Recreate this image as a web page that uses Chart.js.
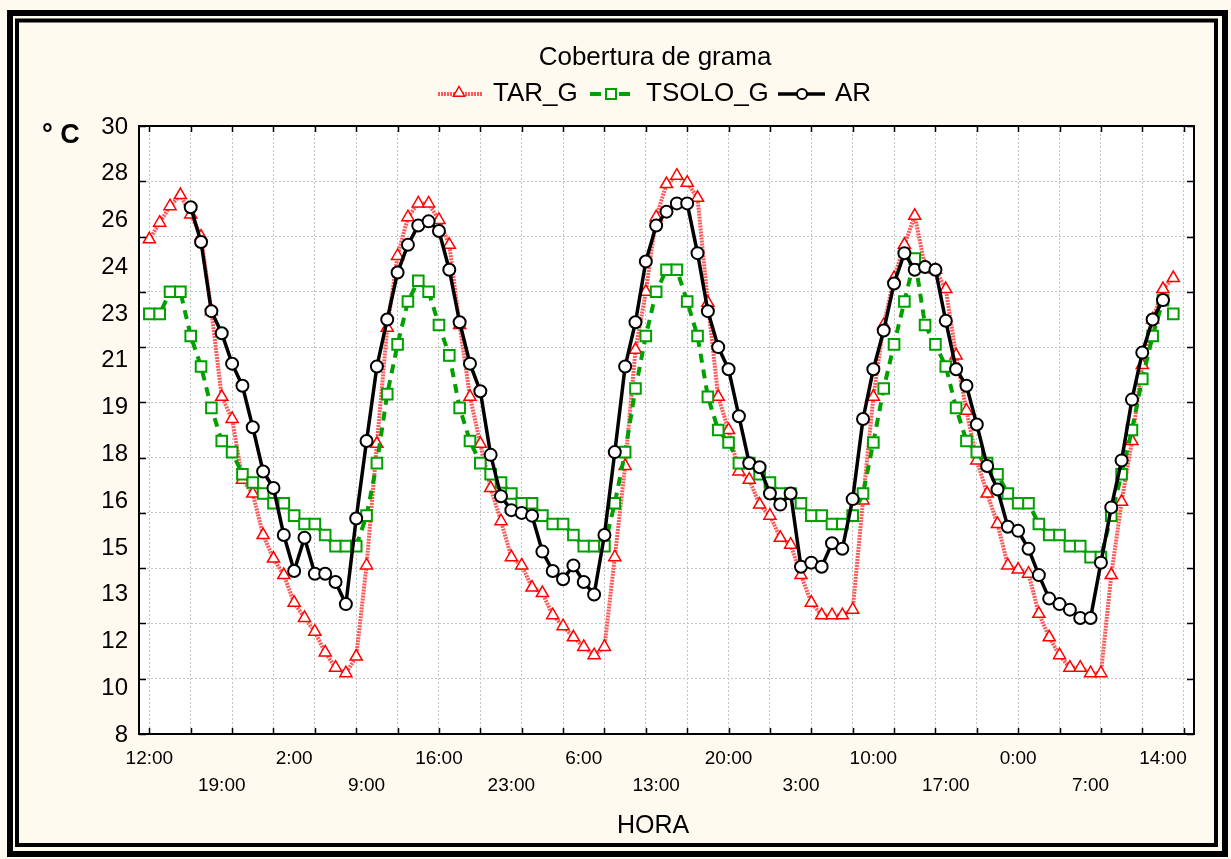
<!DOCTYPE html>
<html>
<head>
<meta charset="utf-8">
<title>Cobertura de grama</title>
<script src="https://cdn.jsdelivr.net/npm/chart.js@4.4.0/dist/chart.umd.min.js"></script>
<style>
  html, body { margin: 0; padding: 0; background: #fefaef; }
  #chart { display: block; }
</style>
</head>
<body>
<canvas id="chart" width="1231" height="859"></canvas>
<script>
// hourly readings, hour 0 = 12:00 of the first day
const hours = [...Array(100).keys()];

const tarG = [
  25.9, 26.5, 27.1, 27.5, 26.8, 26.0, 23.3, 20.2, 19.4, 17.2,
  16.7, 15.2, 14.35, 13.75, 12.75, 12.2, 11.7, 10.95, 10.4, 10.2,
  10.8, 14.1, 18.5, 22.7, 25.3, 26.7, 27.2, 27.2, 26.6, 25.7,
  22.8, 20.2, 18.5, 16.9, 15.7, 14.4, 14.1, 13.3, 13.1, 12.3,
  11.9, 11.5, 11.15, 10.85, 11.15, 14.4, 17.7, 21.9, 24.0, 26.7,
  27.9, 28.2, 27.95, 27.4, 23.6, 20.2, 19.0, 17.5, 17.2, 16.3,
  15.9, 15.1, 14.85, 13.75, 12.75, 12.3, 12.3, 12.3, 12.5, 16.45,
  20.2, 22.8, 24.5, 25.7, 26.75, 24.9, 24.8, 24.1, 21.7, 19.7,
  17.9, 16.7, 15.6, 14.1, 13.95, 13.8, 12.35, 11.5, 10.85, 10.4,
  10.4, 10.2, 10.2, 13.75, 16.4, 18.6, 21.35, 23.0, 24.1, 24.5
];

const tsoloG = [
  23.2, 23.2, 24.0, 24.0, 22.4, 21.3, 19.8, 18.6, 18.2, 17.4,
  17.1, 16.7, 16.35, 16.35, 15.9, 15.6, 15.6, 15.2, 14.8, 14.8,
  14.8, 15.9, 17.8, 20.3, 22.1, 23.65, 24.4, 24.0, 22.8, 21.7,
  19.8, 18.6, 17.8, 17.4, 17.1, 16.7, 16.35, 16.35, 15.9, 15.6,
  15.6, 15.2, 14.8, 14.8, 14.8, 16.35, 18.2, 20.5, 22.4, 24.0,
  24.8, 24.8, 23.65, 22.4, 20.2, 19.0, 18.55, 17.8, 17.8, 17.4,
  17.1, 16.7, 16.7, 16.35, 15.9, 15.9, 15.6, 15.6, 15.9, 16.7,
  18.55, 20.5, 22.1, 23.65, 25.2, 22.8, 22.1, 21.3, 19.8, 18.6,
  18.2, 17.8, 17.4, 16.7, 16.35, 16.35, 15.6, 15.2, 15.2, 14.8,
  14.8, 14.4, 14.4, 15.9, 17.4, 19.0, 20.85, 22.4, 23.7, 23.2
];

const ar = [
  null, null, null, null, 27.06, 25.8, 23.3, 22.5, 21.4, 20.6,
  19.1, 17.5, 16.9, 15.2, 13.9, 15.1, 13.8, 13.8, 13.5, 12.7,
  15.8, 18.6, 21.3, 23.0, 24.7, 25.7, 26.4, 26.55, 26.2, 24.8,
  22.9, 21.4, 20.4, 18.1, 16.6, 16.1, 16.0, 15.9, 14.6, 13.9,
  13.6, 14.1, 13.5, 13.05, 15.2, 18.2, 21.3, 22.9, 25.1, 26.4,
  26.9, 27.2, 27.2, 25.4, 23.3, 22.0, 21.2, 19.5, 17.8, 17.65,
  16.7, 16.3, 16.7, 14.05, 14.2, 14.05, 14.9, 14.7, 16.5, 19.4,
  21.2, 22.6, 24.3, 25.4, 24.8, 24.9, 24.8, 22.95, 21.2, 20.6,
  19.2, 17.7, 16.85, 15.5, 15.35, 14.7, 13.75, 12.9, 12.7, 12.5,
  12.2, 12.2, 14.2, 16.2, 17.9, 20.1, 21.8, 23.0, 23.7, null
];

const xTickHours = [0, 7, 14, 21, 28, 35, 42, 49, 56, 63, 70, 77, 84, 91, 98];
const xTickLabels = ['12:00', '19:00', '2:00', '9:00', '16:00', '23:00', '6:00', '13:00',
                     '20:00', '3:00', '10:00', '17:00', '0:00', '7:00', '14:00'];
const xGridHours = [0, 4, 8, 12, 16, 20, 24, 28, 32, 36, 40, 44, 48, 52, 56, 60, 64, 68, 72, 76, 80, 84, 88, 92, 96, 100];
const yGridValues = [8, 10, 12, 14, 16, 18, 20, 22, 24, 26, 28, 30];
// labels as printed, spread evenly from top to bottom of the axis
const yTickLabels = ['30', '28', '26', '24', '23', '21', '19', '18', '16', '15', '13', '12', '10', '8'];

const FONT = "'Liberation Sans', Arial, Helvetica, sans-serif";
const CREAM = '#fefaef';
const RED = 'rgba(255, 70, 70, 0.9)';
const GREEN = '#00a000';

function toPoints(values) {
  return hours.map((h, i) => ({ x: h, y: values[i] }));
}

function drawMarker(ctx, type, x, y, r, color, lw) {
  ctx.save();
  ctx.setLineDash([]);
  ctx.fillStyle = '#ffffff';
  ctx.strokeStyle = color;
  ctx.lineWidth = lw;
  ctx.beginPath();
  if (type === 'triangle') {
    ctx.moveTo(x, y - r);
    ctx.lineTo(x + r * 0.866, y + r / 2);
    ctx.lineTo(x - r * 0.866, y + r / 2);
    ctx.closePath();
  } else if (type === 'rect') {
    ctx.rect(x - r, y - r, 2 * r, 2 * r);
  } else {
    ctx.arc(x, y, r, 0, Math.PI * 2);
  }
  ctx.fill();
  ctx.stroke();
  ctx.restore();
}

// background, frame, labels, legend
const decor = {
  id: 'decor',
  beforeDraw(chart) {
    const { ctx, chartArea: a } = chart;
    ctx.save();
    ctx.fillStyle = CREAM;
    ctx.fillRect(0, 0, chart.width, chart.height);
    ctx.fillStyle = '#ffffff';
    ctx.fillRect(a.left, a.top, a.right - a.left, a.bottom - a.top);
    ctx.restore();
  },
  afterDraw(chart) {
    const { ctx, chartArea: a } = chart;
    const xs = chart.scales.x;
    const ys = chart.scales.y;
    ctx.save();

    // plot frame + inward ticks
    ctx.strokeStyle = '#000';
    ctx.lineWidth = 2;
    ctx.strokeRect(a.left, a.top, a.right - a.left, a.bottom - a.top);
    ctx.lineWidth = 1.5;
    ctx.beginPath();
    xGridHours.forEach(h => {
      const px = Math.round(xs.getPixelForValue(h)) + 0.5;
      ctx.moveTo(px, a.bottom); ctx.lineTo(px, a.bottom - 6);
      ctx.moveTo(px, a.top); ctx.lineTo(px, a.top + 6);
    });
    yGridValues.forEach(v => {
      const py = Math.round(ys.getPixelForValue(v)) + 0.5;
      ctx.moveTo(a.left, py); ctx.lineTo(a.left + 7, py);
      ctx.moveTo(a.right, py); ctx.lineTo(a.right - 7, py);
    });
    ctx.stroke();

    // y labels
    ctx.fillStyle = '#000';
    ctx.font = '24px ' + FONT;
    ctx.textAlign = 'right';
    ctx.textBaseline = 'middle';
    const n = yTickLabels.length - 1;
    yTickLabels.forEach((t, i) => {
      ctx.fillText(t, 128, a.top + i * (a.bottom - a.top) / n + 1);
    });

    // x labels, staggered in two rows
    ctx.font = '19px ' + FONT;
    ctx.textAlign = 'center';
    xTickHours.forEach((h, i) => {
      ctx.fillText(xTickLabels[i], xs.getPixelForValue(h), i % 2 === 0 ? 759 : 786);
    });

    // axis titles
    ctx.font = '25px ' + FONT;
    ctx.fillText('HORA', 653, 826);
    ctx.font = 'bold 27px ' + FONT;
    ctx.textAlign = 'left';
    ctx.textBaseline = 'alphabetic';
    ctx.fillText('° C', 42, 143);

    // title
    ctx.font = '26px ' + FONT;
    ctx.textAlign = 'center';
    ctx.textBaseline = 'middle';
    ctx.fillText('Cobertura de grama', 655, 58);

    // legend
    const ly = 94;
    ctx.textAlign = 'left';
    ctx.lineCap = 'butt';
    // TAR_G
    ctx.strokeStyle = RED; ctx.lineWidth = 4; ctx.setLineDash([2, 1]);
    ctx.beginPath(); ctx.moveTo(438, ly); ctx.lineTo(483, ly); ctx.stroke();
    drawMarker(ctx, 'triangle', 459, ly - 1, 6.5, '#ff0000', 1.5);
    ctx.fillText('TAR_G', 493, ly);
    // TSOLO_G
    ctx.strokeStyle = GREEN; ctx.lineWidth = 4; ctx.setLineDash([]);
    ctx.beginPath(); ctx.moveTo(590, ly); ctx.lineTo(601, ly); ctx.moveTo(619, ly); ctx.lineTo(630, ly); ctx.stroke();
    drawMarker(ctx, 'rect', 611, ly, 5, GREEN, 2);
    ctx.fillStyle = '#000';
    ctx.fillText('TSOLO_G', 646, ly);
    // AR
    ctx.strokeStyle = '#000'; ctx.lineWidth = 3.5;
    ctx.beginPath(); ctx.moveTo(778, ly); ctx.lineTo(825, ly); ctx.stroke();
    drawMarker(ctx, 'circle', 802, ly, 5, '#000', 2);
    ctx.fillStyle = '#000';
    ctx.fillText('AR', 835, ly);

    // outer double border
    ctx.setLineDash([]);
    ctx.strokeStyle = '#000';
    ctx.lineWidth = 6;
    ctx.strokeRect(10, 13, 1215, 841);
    ctx.lineWidth = 4;
    ctx.strokeRect(17, 20.5, 1199, 824.5);
    ctx.restore();
  }
};

new Chart(document.getElementById('chart'), {
  type: 'line',
  data: {
    datasets: [
      {
        label: 'TAR_G',
        data: toPoints(tarG),
        order: 3,
        borderColor: RED,
        borderWidth: 4,
        borderDash: [2, 1],
        pointStyle: 'triangle',
        pointRadius: 7,
        pointBorderWidth: 1.5,
        pointBorderColor: '#ff0000',
        pointBackgroundColor: '#ffffff',
        tension: 0
      },
      {
        label: 'TSOLO_G',
        data: toPoints(tsoloG),
        order: 2,
        borderColor: GREEN,
        borderWidth: 4,
        borderDash: [9, 7],
        pointStyle: 'rect',
        pointRadius: 7.5,
        pointBorderWidth: 2,
        pointBorderColor: GREEN,
        pointBackgroundColor: '#ffffff',
        tension: 0
      },
      {
        label: 'AR',
        data: toPoints(ar),
        order: 1,
        borderColor: '#000000',
        borderWidth: 3.5,
        pointStyle: 'circle',
        pointRadius: 6,
        pointBorderWidth: 2,
        pointBorderColor: '#000000',
        pointBackgroundColor: '#ffffff',
        tension: 0
      }
    ]
  },
  options: {
    responsive: false,
    animation: false,
    events: [],
    layout: { padding: { left: 139, top: 126, right: 37, bottom: 125 } },
    plugins: {
      legend: { display: false },
      title: { display: false },
      tooltip: { enabled: false }
    },
    scales: {
      x: {
        type: 'linear',
        min: -1,
        max: 101,
        afterBuildTicks: scale => { scale.ticks = xGridHours.map(v => ({ value: v })); },
        grid: { color: '#c4c4c4', lineWidth: 1, drawTicks: false },
        border: { display: false, dash: [2, 2] },
        ticks: { display: false }
      },
      y: {
        type: 'linear',
        min: 8,
        max: 30,
        afterBuildTicks: scale => { scale.ticks = yGridValues.map(v => ({ value: v })); },
        grid: { color: '#c4c4c4', lineWidth: 1, drawTicks: false },
        border: { display: false, dash: [2, 2] },
        ticks: { display: false }
      }
    }
  },
  plugins: [decor]
});
</script>
</body>
</html>
